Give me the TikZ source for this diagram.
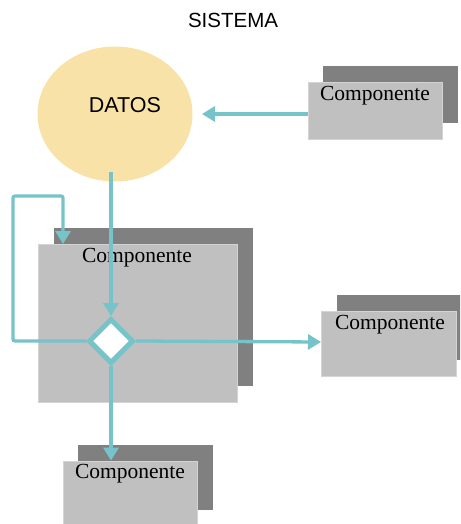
\documentclass[tikz,border=0pt]{standalone}
\usepackage{fontspec}
\setmainfont{Liberation Serif}
\newfontfamily\arialf{Liberation Sans}
\usetikzlibrary{shapes.geometric,arrows.meta}
\definecolor{teal1}{RGB}{118,195,202}
\definecolor{datfill}{RGB}{249,226,168}
\definecolor{frontgray}{RGB}{192,192,192}
\definecolor{backgray}{RGB}{128,128,128}
\definecolor{edgegray}{RGB}{212,212,212}
\tikzset{
  frontbox/.style={rectangle, fill=frontgray, draw=edgegray, line width=0.8pt, inner sep=0pt},
  comptext/.style={font=\fontsize{21.5}{24}\selectfont, inner sep=0pt, anchor=center},
  conn/.style={draw=teal1, line width=3.3pt, -{Triangle[length=13pt,width=15pt]}},
}
\begin{document}
\begin{tikzpicture}[x=1pt,y=-1pt]
\useasboundingbox (0,0) rectangle (460,524);
\clip (0,0) rectangle (460,524);
% title
\node[font=\arialf\fontsize{20.5}{24}\selectfont, inner sep=0pt] (title) at (233,20) {SISTEMA};
% ellipse
\node[ellipse, fill=datfill, minimum width=155pt, minimum height=135pt, inner sep=0pt] (dat) at (115,114) {};
\node[font=\arialf\fontsize{21.5}{24}\selectfont, inner sep=0pt] (dattext) at (125,105) {DATOS};
% back boxes
\fill[backgray] (323,66) rectangle (458,123);
\fill[backgray] (54,228) rectangle (253,386);
\fill[backgray] (337,295) rectangle (472,360);
\fill[backgray] (78,445) rectangle (213,510);
% front boxes
\node[frontbox, minimum width=134pt, minimum height=57pt] (tr) at (375,110.5) {};
\node[frontbox, minimum width=199pt, minimum height=158pt] (big) at (137.5,323) {};
\node[frontbox, minimum width=135pt, minimum height=65pt] (rc) at (388.5,343.5) {};
\node[frontbox, minimum width=134pt, minimum height=65pt] (bc) at (130,493.5) {};
% texts
\node[comptext] (trt) at (375,96) {Componente};
\node[comptext] (bigt) at (137,258) {Componente};
\node[comptext] (rct) at (390,325) {Componente};
\node[comptext] (bct) at (130,474) {Componente};
% diamond
\node[diamond, fill=white, draw=teal1, line width=5pt, minimum width=45pt, minimum height=45pt, inner sep=0pt] (dia) at (111,341) {};
% connectors
\coordinate (datin) at (202,114);
\draw[conn] (tr.west |- datin) -- (datin);
\coordinate (datout) at (111,172);
\draw[conn] (datout) -- (dia.north);
\coordinate (loopc) at (13,196);
\coordinate (loopin) at (63,244);
\draw[conn, rounded corners=2pt] (dia.west) -| (loopc) -| (loopin);
\coordinate (rcin) at (321,342);
\draw[conn] (dia.east) -- (rcin);
\draw[conn] (dia.south) -- (dia.south |- bc.north);
\end{tikzpicture}
\end{document}
